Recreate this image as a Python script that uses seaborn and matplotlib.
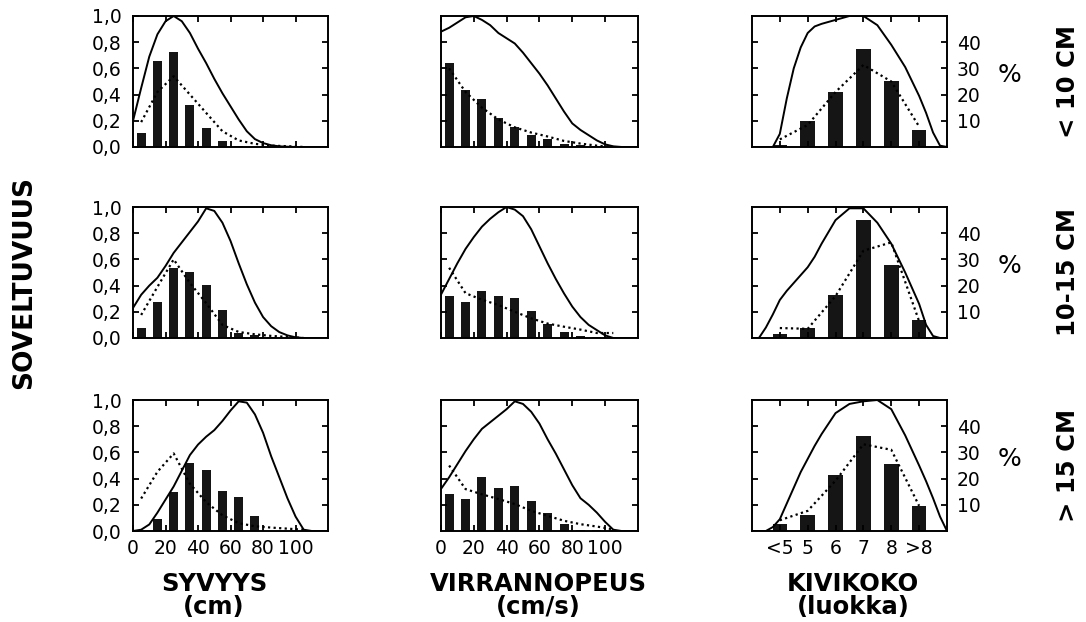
import seaborn as sns
import matplotlib.pyplot as plt

row_names = ['< 10 CM', '10-15 CM', '> 15 CM']
col_titles = ['SYVYYS\n(cm)', 'VIRRANNOPEUS\n(cm/s)', 'KIVIKOKO\n(luokka)']

bins = [5, 15, 25, 35, 45, 55, 65, 75, 85, 95, 105]
stone_classes = ['<5', '5', '6', '7', '8', '>8']

# kaytto (%), pylvaat
depth_use_lt10 = [5.2, 32.8, 36.2, 16.0, 7.4, 2.3, 0.3, 0, 0, 0, 0]
depth_use_mid = [3.9, 13.7, 26.9, 25.3, 20.1, 10.6, 1.9, 1.0, 0.4, 0, 0]
depth_use_gt15 = [0, 4.5, 14.8, 26.0, 23.1, 15.3, 12.9, 5.6, 0, 0, 0]
flow_use_lt10 = [31.9, 21.8, 18.3, 11.2, 7.8, 4.6, 3.1, 1.0, 0.6, 0.3, 0]
flow_use_mid = [16.1, 13.7, 18.0, 16.1, 15.2, 10.4, 5.3, 2.2, 0.8, 0.4, 0.1]
flow_use_gt15 = [14.2, 12.2, 20.5, 16.4, 17.1, 11.3, 6.8, 2.6, 0.5, 0.4, 0.2]
stone_use_lt10 = [0.6, 9.9, 21.1, 37.3, 25.2, 6.6]
stone_use_mid = [1.5, 3.7, 16.5, 44.9, 27.8, 6.8]
stone_use_gt15 = [2.8, 6.0, 21.2, 36.2, 25.4, 9.6]

# saatavuus (%), pisteviiva
depth_avail_lt10 = [9.5, 21, 27, 20, 13, 6, 2.5, 1.2, 0.5, 0.3, 0]
depth_avail_mid = [8.8, 19.5, 30, 21, 13.3, 5, 2.3, 1.4, 0.8, 0.4, 0]
depth_avail_gt15 = [12.4, 22.6, 29.6, 18, 11, 6, 3, 1.8, 1.3, 0.9, 0.5]
flow_avail_lt10 = [30, 21, 15, 10.5, 7.5, 5.5, 4, 2.3, 1.3, 0.5, 0]
flow_avail_mid = [26.8, 17.1, 14.6, 12.6, 10, 7.5, 5.5, 4.3, 3.2, 1.9, 1.9]
flow_avail_gt15 = [25, 16, 14, 12.2, 10.3, 7.7, 5.8, 3.9, 2.6, 1.7, 0.6]
stone_avail_lt10 = [2.9, 8.4, 21, 31.3, 25, 7.8]
stone_avail_mid = [3.8, 3.5, 16, 33.3, 36.5, 6.4]
stone_avail_gt15 = [4.1, 7.7, 19.2, 33.1, 31, 9.6]

# soveltuvuuskayrat (0-1)
curve_x = [0, 5, 10, 15, 20, 25, 30, 35, 40, 45, 50, 55, 60, 65, 70, 75,
           80, 85, 90, 95, 100, 105, 110, 120]
depth_suit_lt10 = [0.2, 0.45, 0.69, 0.86, 0.96, 1.0, 0.96, 0.87, 0.75, 0.64, 0.52, 0.41,
                   0.31, 0.21, 0.12, 0.06, 0.03, 0.013, 0.005, 0.002, 0, 0, 0, 0]
depth_suit_mid = [0.23, 0.33, 0.40, 0.46, 0.55, 0.65, 0.73, 0.81, 0.89, 0.99, 0.97, 0.88,
                  0.74, 0.57, 0.41, 0.27, 0.16, 0.09, 0.045, 0.02, 0.005, 0, 0, 0]
depth_suit_gt15 = [0, 0.01, 0.05, 0.14, 0.24, 0.34, 0.46, 0.58, 0.66, 0.72, 0.77, 0.84,
                   0.92, 0.99, 0.98, 0.89, 0.75, 0.57, 0.41, 0.25, 0.11, 0.01, 0, 0]
flow_suit_lt10 = [0.88, 0.91, 0.95, 0.99, 1.0, 0.97, 0.93, 0.87, 0.83, 0.79, 0.72, 0.64,
                  0.56, 0.47, 0.37, 0.27, 0.18, 0.13, 0.09, 0.05, 0.02, 0.005, 0, 0]
flow_suit_mid = [0.33, 0.45, 0.57, 0.68, 0.77, 0.85, 0.91, 0.96, 1.0, 0.98, 0.93, 0.83,
                 0.70, 0.57, 0.45, 0.34, 0.24, 0.16, 0.10, 0.06, 0.02, 0, 0, 0]
flow_suit_gt15 = [0.32, 0.41, 0.51, 0.61, 0.70, 0.78, 0.83, 0.88, 0.93, 0.99, 0.97, 0.91,
                  0.82, 0.70, 0.59, 0.47, 0.35, 0.25, 0.20, 0.14, 0.07, 0.01, 0, 0]
stone_curve_x = [-1, -0.75, -0.5, -0.25, 0, 0.25, 0.5, 0.75, 1, 1.25, 1.5, 2, 2.5, 3,
                 3.5, 4, 4.5, 5, 5.25, 5.5, 5.75, 6]
stone_suit_lt10 = [0, 0, 0, 0, 0.1, 0.37, 0.6, 0.76, 0.87, 0.92, 0.94, 0.97, 1.0, 1.0,
                   0.93, 0.78, 0.61, 0.39, 0.26, 0.11, 0.01, 0]
stone_suit_mid = [0, 0, 0.08, 0.18, 0.29, 0.36, 0.42, 0.48, 0.54, 0.62, 0.72, 0.9, 0.99,
                  0.99, 0.88, 0.72, 0.5, 0.26, 0.1, 0.015, 0, 0]
stone_suit_gt15 = [0, 0, 0, 0.03, 0.09, 0.21, 0.33, 0.45, 0.55, 0.65, 0.74, 0.9, 0.97,
                   0.99, 1.0, 0.93, 0.73, 0.5, 0.38, 0.25, 0.11, 0]

panels = [
    [(bins, depth_use_lt10, depth_avail_lt10, curve_x, depth_suit_lt10),
     (bins, flow_use_lt10, flow_avail_lt10, curve_x, flow_suit_lt10),
     (stone_classes, stone_use_lt10, stone_avail_lt10, stone_curve_x, stone_suit_lt10)],
    [(bins, depth_use_mid, depth_avail_mid, curve_x, depth_suit_mid),
     (bins, flow_use_mid, flow_avail_mid, curve_x, flow_suit_mid),
     (stone_classes, stone_use_mid, stone_avail_mid, stone_curve_x, stone_suit_mid)],
    [(bins, depth_use_gt15, depth_avail_gt15, curve_x, depth_suit_gt15),
     (bins, flow_use_gt15, flow_avail_gt15, curve_x, flow_suit_gt15),
     (stone_classes, stone_use_gt15, stone_avail_gt15, stone_curve_x, stone_suit_gt15)],
]

sns.set_style('ticks', {'axes.edgecolor': 'black', 'text.color': 'black',
                        'xtick.color': 'black', 'ytick.color': 'black'})
plt.rcParams['font.family'] = ['DejaVu Sans']
plt.rcParams['axes.linewidth'] = 1.2

fig = plt.figure(figsize=(10.86, 6.22), dpi=100)
col_left = [0.1225, 0.406, 0.6924]
col_w = [0.1796, 0.1814, 0.1796]
row_bottom = [0.7637, 0.4566, 0.1463]
row_h = 0.2106

bar_color = '#151515'
tick_fs = 13.5
tick_kw = dict(direction='in', length=4.5, width=1.3, color='black',
               labelcolor='black', labelsize=tick_fs)

for r in range(3):
    for c in range(3):
        xs, use, avail, cx, cy = panels[r][c]
        ax = fig.add_axes([col_left[c], row_bottom[r], col_w[c], row_h])
        ax2 = ax.twinx()

        if c < 2:
            sns.barplot(x=xs, y=use, native_scale=True, width=0.55, color=bar_color,
                        saturation=1, errorbar=None, linewidth=0, ax=ax2)
        else:
            sns.barplot(x=xs, y=use, order=stone_classes, width=0.52, color=bar_color,
                        saturation=1, errorbar=None, linewidth=0, ax=ax2)
        sns.lineplot(x=xs, y=avail, color='black', linewidth=1.6,
                     linestyle=(0, (1, 1.5)), ax=ax2)
        sns.lineplot(x=cx, y=cy, color='black', linewidth=1.4, ax=ax)

        ax.set_zorder(ax2.get_zorder() + 1)
        ax.patch.set_visible(False)

        ax.set_ylim(0, 1)
        ax2.set_ylim(0, 50)
        if c < 2:
            ax.set_xlim(0, 120)
            ax.set_xticks([0, 20, 40, 60, 80, 100])
            ax.set_xticklabels(['0', '20', '40', '60', '80', '100'])
        else:
            ax.set_xlim(-1, 6)
            ax.set_xticks(range(len(stone_classes)))
            ax.set_xticklabels(stone_classes)

        if c == 0:
            ax.set_yticks([0, 0.2, 0.4, 0.6, 0.8, 1.0])
            ax.set_yticklabels(['0,0', '0,2', '0,4', '0,6', '0,8', '1,0'])
        else:
            ax.set_yticks([0.2, 0.4, 0.6, 0.8])
            ax.set_yticklabels([])
        ax2.set_yticks([10, 20, 30, 40])
        if c == 2:
            ax2.set_yticklabels(['10', '20', '30', '40'])
        else:
            ax2.set_yticklabels([])

        ax.tick_params(axis='x', top=True, bottom=True, pad=6,
                       labelbottom=(r == 2), **tick_kw)
        ax.tick_params(axis='y', left=True, right=False, pad=8, **tick_kw)
        ax2.tick_params(axis='y', right=True, left=False, pad=7, **tick_kw)
        for a in (ax, ax2):
            a.set_xlabel('')
            a.set_ylabel('')
            for s in a.spines.values():
                s.set_visible(True)
                s.set_linewidth(1.2)
                s.set_color('black')

        if c == 2:
            fig.text(0.930, row_bottom[r] + 0.55 * row_h, '%', fontsize=18,
                     ha='center', va='center', color='black')
            fig.text(0.983, row_bottom[r] + row_h / 2, row_names[r], rotation=90,
                     fontsize=17.5, fontweight='bold', ha='center', va='center',
                     color='black')

fig.text(0.022, 0.5466, 'SOVELTUVUUS', rotation=90, fontsize=19, fontweight='bold',
         ha='center', va='center', color='black')
for c, x in enumerate([0.197, 0.4954, 0.7855]):
    fig.text(x, 0.0426, col_titles[c], fontsize=17.5, fontweight='bold', ha='center',
             va='center', linespacing=0.9, color='black')

fig.savefig('out.png', dpi=100)
